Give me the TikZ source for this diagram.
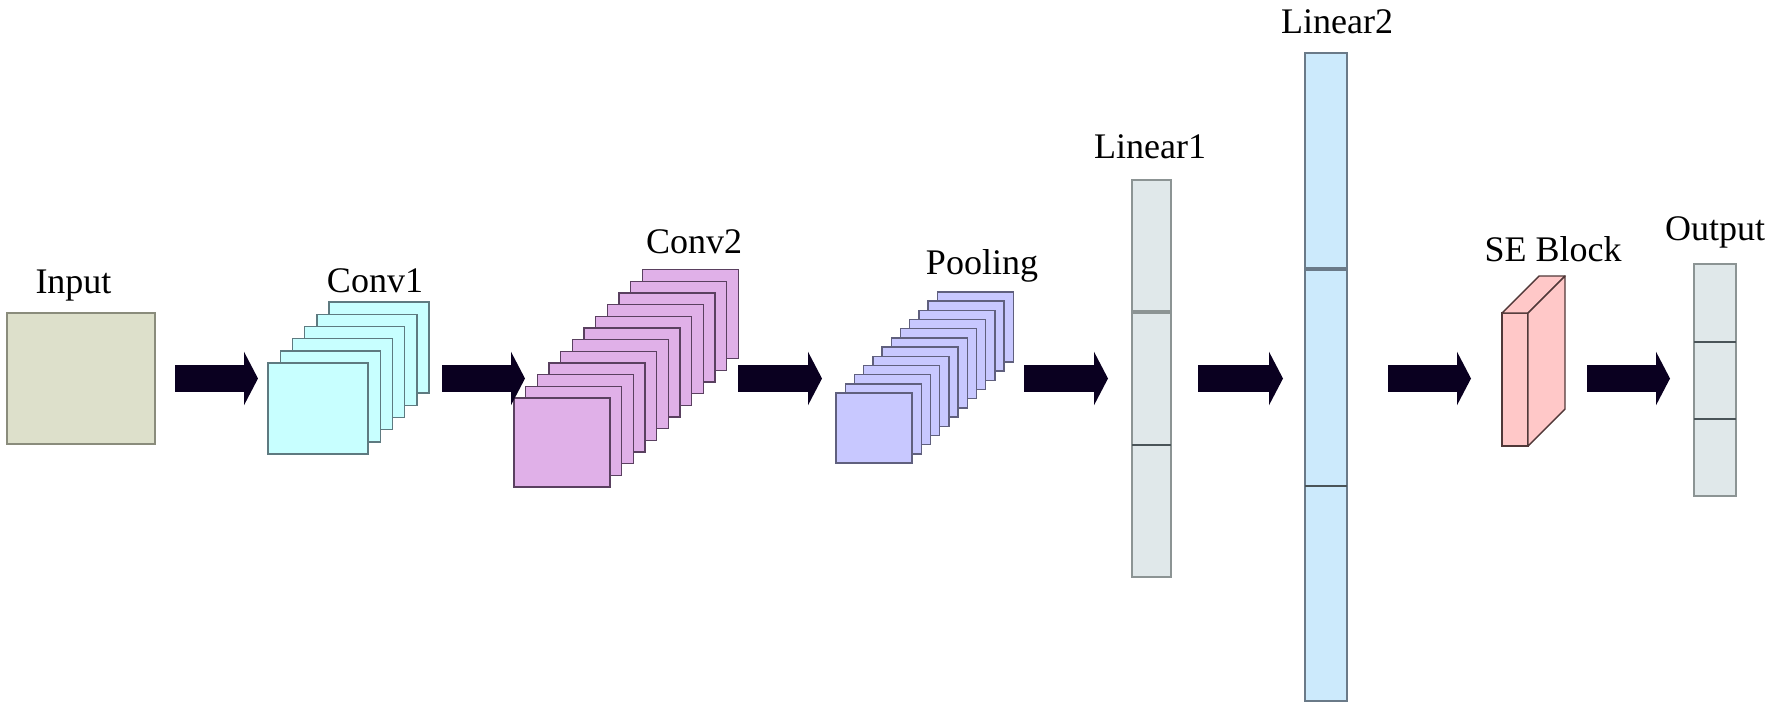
\documentclass[tikz,border=0pt]{standalone}
\usepackage{fontspec}
\setmainfont{Liberation Serif}
\usetikzlibrary{arrows.meta}
\definecolor{arrowcol}{HTML}{0A0020}
\definecolor{inputfill}{HTML}{DDE0CB}
\definecolor{inputline}{HTML}{8A8C7C}
\definecolor{conva}{HTML}{C8FFFF}
\definecolor{convaline}{HTML}{5E7A80}
\definecolor{convb}{HTML}{E0B0E8}
\definecolor{convbline}{HTML}{5A4060}
\definecolor{poolfill}{HTML}{C8C8FF}
\definecolor{poolline}{HTML}{60607E}
\definecolor{linfill}{HTML}{E0E8EA}
\definecolor{linline}{HTML}{8C9494}
\definecolor{linbfill}{HTML}{CCEAFC}
\definecolor{linbline}{HTML}{6A7A88}
\definecolor{sefill}{HTML}{FFC8C8}
\definecolor{seline}{HTML}{503838}
\definecolor{divline}{HTML}{4A5458}
\tikzset{
  layerbox/.style={draw, line width=0.7pt, inner sep=0pt, outer sep=0pt, anchor=north west},
  lbl/.style={anchor=base, inner sep=0pt, font=\fontsize{18}{22}\selectfont},
  blockarrow/.style={draw=arrowcol, line width=13.5pt,
    -{Triangle[length=7pt, width=26.5pt, fill=arrowcol]}},
}
\begin{document}
\begin{tikzpicture}[x=0.5pt, y=-0.5pt]
\useasboundingbox (0,0) rectangle (1772,709);
\fill[white] (0,0) rectangle (1772,709);

% Input
\node[layerbox, draw=inputline, fill=inputfill, minimum width=74pt, minimum height=65.5pt] (input) at (7,313) {};
\node[lbl] (inputlbl) at (73.5,293) {Input};

% Conv1 stack (6 maps)
\foreach \i in {5,...,0} {
  \node[layerbox, draw=convaline, fill=conva, minimum width=50pt, minimum height=45.5pt]
    (conv1-\i) at ({268+12.2*\i},{363-12.2*\i}) {};
}
\node[lbl] (conv1lbl) at (375,292) {Conv1};

% Conv2 stack (12 maps)
\foreach \i in {11,...,0} {
  \node[layerbox, draw=convbline, fill=convb, minimum width=48pt, minimum height=44.5pt]
    (conv2-\i) at ({514+11.67*\i},{398-11.67*\i}) {};
}
\node[lbl] (conv2lbl) at (694,253) {Conv2};

% Pooling stack (12 maps)
\foreach \i in {11,...,0} {
  \node[layerbox, draw=poolline, fill=poolfill, minimum width=38pt, minimum height=35pt]
    (pool-\i) at ({836+9.2*\i},{393-9.2*\i}) {};
}
\node[lbl] (poollbl) at (982,274) {Pooling};

% Linear1
\node[layerbox, draw=linline, fill=linfill, minimum width=19.5pt, minimum height=65.5pt] (lin1a) at (1132,180) {};
\node[layerbox, draw=linline, fill=linfill, minimum width=19.5pt, minimum height=66pt] (lin1b) at (1132,313) {};
\node[layerbox, draw=linline, fill=linfill, minimum width=19.5pt, minimum height=66pt] (lin1c) at (1132,445) {};
\draw[divline, line width=0.7pt] (lin1c.north west) -- (lin1c.north east);
\node[lbl] (lin1lbl) at (1150,158) {Linear1};

% Linear2
\node[layerbox, draw=linbline, fill=linbfill, minimum width=21pt, minimum height=107.5pt] (lin2a) at (1305,53) {};
\node[layerbox, draw=linbline, fill=linbfill, minimum width=21pt, minimum height=108pt] (lin2b) at (1305,270) {};
\node[layerbox, draw=linbline, fill=linbfill, minimum width=21pt, minimum height=107.5pt] (lin2c) at (1305,486) {};
\draw[divline, line width=0.7pt] (lin2c.north west) -- (lin2c.north east);
\node[lbl] (lin2lbl) at (1337,33) {Linear2};

% SE Block
\node[layerbox, draw=seline, fill=sefill, minimum width=13pt, minimum height=66.5pt] (se) at (1502,313) {};
\filldraw[draw=seline, fill=sefill, line width=0.7pt, line join=round]
  (se.north west) -- ++(37,-37) -- ++(26,0) -- (se.north east) -- cycle;
\filldraw[draw=seline, fill=sefill, line width=0.7pt, line join=round]
  (se.north east) -- ++(37,-37) -- ++(0,133) -- (se.south east) -- cycle;
\node[lbl] (selbl) at (1553,261) {SE Block};

% Output
\node[layerbox, draw=linline, fill=linfill, minimum width=21pt, minimum height=39pt] (outa) at (1694,264) {};
\node[layerbox, draw=linline, fill=linfill, minimum width=21pt, minimum height=38.5pt] (outb) at (1694,342) {};
\node[layerbox, draw=linline, fill=linfill, minimum width=21pt, minimum height=38.5pt] (outc) at (1694,419) {};
\draw[divline, line width=0.7pt] (outb.north west) -- (outb.north east);
\draw[divline, line width=0.7pt] (outc.north west) -- (outc.north east);
\node[lbl] (outlbl) at (1715,240) {Output};

% Arrows
\coordinate (a1s) at (175,378.5); \coordinate (a1e) at (258,378.5);
\coordinate (a2s) at (442,378.5); \coordinate (a2e) at (525,378.5);
\coordinate (a3s) at (738,378.5); \coordinate (a3e) at (822,378.5);
\coordinate (a4s) at (1024,378.5); \coordinate (a4e) at (1108,378.5);
\coordinate (a5s) at (1198,378.5); \coordinate (a5e) at (1283,378.5);
\coordinate (a6s) at (1388,378.5); \coordinate (a6e) at (1471,378.5);
\coordinate (a7s) at (1587,378.5); \coordinate (a7e) at (1670,378.5);
\foreach \k in {1,...,7} {
  \draw[blockarrow] (a\k s) -- (a\k e);
}
\end{tikzpicture}
\end{document}
